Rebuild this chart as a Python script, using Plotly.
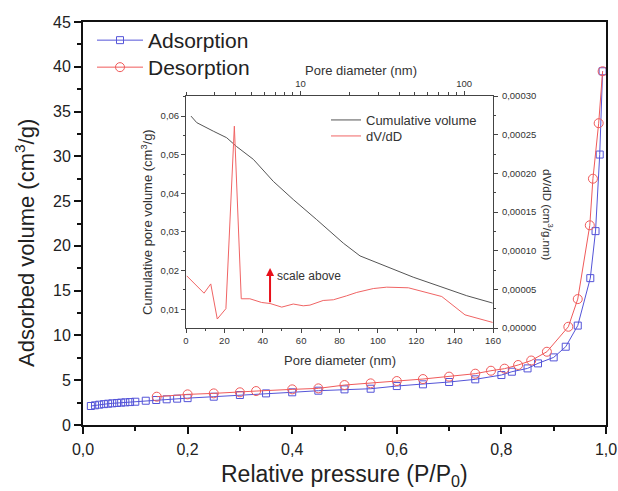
import math
import plotly.graph_objects as go

# ---------------- data ----------------
p_ads = [0.015, 0.023, 0.031, 0.040, 0.048, 0.056, 0.065, 0.073, 0.081, 0.090, 0.100,
         0.12, 0.14, 0.16, 0.18, 0.20, 0.25, 0.30, 0.35, 0.40, 0.45, 0.50, 0.55, 0.60,
         0.65, 0.70, 0.75, 0.80, 0.82, 0.85, 0.87, 0.90, 0.923, 0.946, 0.970, 0.980,
         0.988, 0.9935]
v_ads = [2.12, 2.20, 2.27, 2.33, 2.38, 2.42, 2.46, 2.50, 2.53, 2.56, 2.60,
         2.71, 2.79, 2.87, 2.94, 3.00, 3.16, 3.35, 3.53, 3.65, 3.83, 3.98, 4.05, 4.35,
         4.54, 4.80, 5.10, 5.58, 5.95, 6.32, 6.88, 7.55, 8.74, 11.1, 16.4, 21.65,
         30.2, 39.5]

p_des = [0.141, 0.20, 0.25, 0.30, 0.331, 0.40, 0.45, 0.50, 0.55, 0.60, 0.65, 0.70,
         0.75, 0.78, 0.806, 0.832, 0.857, 0.887, 0.928, 0.946, 0.969, 0.975, 0.986, 0.9935]
v_des = [3.16, 3.42, 3.53, 3.65, 3.79, 3.98, 4.09, 4.46, 4.65, 4.91, 5.13, 5.40,
         5.73, 6.06, 6.29, 6.70, 7.20, 8.18, 10.97, 14.06, 22.3, 27.5, 33.7, 39.5]

cum_d = [2.6, 3.8, 5.6, 14.2, 21.2, 26.4, 35.1, 45.5, 55.9, 68.1, 82.0, 90.7,
         104.6, 118.4, 132.4, 146.3, 159.8]
cum_v = [0.0600, 0.0592, 0.0583, 0.0561, 0.0544, 0.0521, 0.0488, 0.0431, 0.0384,
         0.0332, 0.0271, 0.0238, 0.0211, 0.0183, 0.0159, 0.0135, 0.0116]

dvdd_d = [0.4, 9.4, 12.9, 16.3, 20.8, 25.2, 28.8, 33.3, 39.4, 43.8, 49.9, 55.9,
          61.1, 64.6, 71.5, 76.8, 83.7, 89.0, 97.6, 104.6, 115.9, 133.3, 145.4, 159.8]
dvdd_v = [6.74e-5, 4.5e-5, 5.7e-5, 1.16e-5, 2.5e-5, 2.61e-4, 3.78e-5, 3.78e-5,
          3.3e-5, 3.17e-5, 2.7e-5, 3.1e-5, 2.87e-5, 2.96e-5, 3.56e-5, 3.65e-5,
          4.16e-5, 4.6e-5, 5.1e-5, 5.28e-5, 5.2e-5, 4.07e-5, 1.7e-5, 7.2e-6]

arrow_x = 43.8
arrow_base = 0.0114
arrow_tip = 0.0207

top_range = [2, 150]
top_major = [10, 100]
top_minor = [2, 3, 4, 5, 6, 7, 8, 9, 20, 30, 40, 50, 60, 70, 80, 90]

# ---------------- styles ----------------
BLUE = "#5454d8"
RED = "#f05a5a"
GRAY = "#555555"
DVRED = "#f06464"
FONT = "Arial, Liberation Sans, sans-serif"

W, H = 618, 491
ML, MR, MT, MB = 83, 12, 22, 66
PW, PH = W - ML - MR, H - MT - MB

def px(x):
    return (x - ML) / PW

def py(y):
    return (H - MB - y) / PH

fig = go.Figure()

fig.add_trace(go.Scatter(
    x=p_ads, y=v_ads, name="Adsorption", mode="lines+markers",
    line=dict(color=BLUE, width=1),
    marker=dict(symbol="square-open", size=7, color=BLUE, line=dict(width=1)),
    legend="legend"))
fig.add_trace(go.Scatter(
    x=p_des, y=v_des, name="Desorption", mode="lines+markers",
    line=dict(color=RED, width=1),
    marker=dict(symbol="circle-open", size=9, color=RED, line=dict(width=1)),
    legend="legend4"))

fig.add_trace(go.Scatter(
    x=cum_d, y=cum_v, name="Cumulative volume", mode="lines",
    line=dict(color=GRAY, width=1), xaxis="x2", yaxis="y2", legend="legend2"))
fig.add_trace(go.Scatter(
    x=dvdd_d, y=dvdd_v, name="dV/dD", mode="lines",
    line=dict(color=DVRED, width=1), xaxis="x2", yaxis="y3", legend="legend3"))
# invisible carrier so the top (log) pore-diameter axis is drawn
fig.add_trace(go.Scatter(
    x=top_range, y=[cum_v[0], cum_v[-1]], mode="lines", opacity=0,
    line=dict(width=0), showlegend=False, hoverinfo="skip",
    xaxis="x3", yaxis="y2"))

# inset domain
ix0, ix1 = px(186), px(493)
iy0, iy1 = py(328), py(96)

axis_common = dict(showgrid=False, zeroline=False, showline=True, automargin=False)
inset_tick = dict(size=9.5, family=FONT, color="#333")

fig.update_layout(
    width=W, height=H,
    margin=dict(l=ML, r=MR, t=MT, b=MB),
    paper_bgcolor="white", plot_bgcolor="white",
    separators=",.",
    font=dict(family=FONT, color="#222"),
    showlegend=True,
    xaxis=dict(**axis_common, domain=[0, 1], range=[0, 1], dtick=0.2, tickformat=".1f",
               linecolor="#111", linewidth=2, mirror=True,
               ticks="outside", ticklen=7, tickwidth=1.5, tickcolor="#111",
               minor=dict(dtick=0.1, ticks="outside", ticklen=4, tickcolor="#111"),
               tickfont=dict(size=16, family=FONT, color="#222"),
               ticklabelstandoff=2),
    yaxis=dict(**axis_common, domain=[0, 1], range=[0, 45], dtick=5,
               linecolor="#111", linewidth=2, mirror=True,
               ticks="outside", ticklen=7, tickwidth=1.5, tickcolor="#111",
               minor=dict(dtick=2.5, ticks="outside", ticklen=4, tickcolor="#111"),
               tickfont=dict(size=16, family=FONT, color="#222")),
    xaxis2=dict(**axis_common, domain=[ix0, ix1], anchor="y2", range=[0, 160], dtick=20,
                linecolor="#444", linewidth=1,
                ticks="outside", ticklen=4, tickcolor="#444",
                minor=dict(dtick=10, ticks="outside", ticklen=2, tickcolor="#444"),
                tickfont=inset_tick),
    yaxis2=dict(**axis_common, domain=[iy0, iy1], anchor="x2",
                range=[0.00514, 0.0652], tickvals=[0.01, 0.02, 0.03, 0.04, 0.05, 0.06],
                tickformat=".2f",
                linecolor="#444", linewidth=1,
                ticks="outside", ticklen=4, tickcolor="#444",
                minor=dict(dtick=0.005, ticks="outside", ticklen=2, tickcolor="#444"),
                tickfont=inset_tick),
    yaxis3=dict(**axis_common, overlaying="y2", side="right", anchor="x2",
                range=[0, 0.0003], dtick=0.00005, tickformat=".5f",
                linecolor="#444", linewidth=1,
                ticks="outside", ticklen=4, tickcolor="#444",
                minor=dict(dtick=0.000025, ticks="outside", ticklen=2, tickcolor="#444"),
                tickfont=inset_tick, ticklabelstandoff=2),
    xaxis3=dict(**axis_common, overlaying="x2", side="top", anchor="y2", type="log",
                range=[math.log10(top_range[0]), math.log10(top_range[1])],
                tickmode="array", tickvals=top_major, ticktext=["10", "100"],
                linecolor="#444", linewidth=1,
                ticks="outside", ticklen=4, tickcolor="#444",
                minor=dict(tickmode="array", tickvals=top_minor, ticks="outside",
                           ticklen=3, tickcolor="#444"),
                tickfont=inset_tick),
    legend=dict(x=px(92), y=py(20), xanchor="left", yanchor="top",
                bgcolor="rgba(0,0,0,0)", font=dict(size=21, family=FONT, color="#222"),
                itemwidth=46),
    legend4=dict(x=px(92), y=py(47), xanchor="left", yanchor="top",
                 bgcolor="rgba(0,0,0,0)", font=dict(size=21, family=FONT, color="#222"),
                 itemwidth=46),
    legend2=dict(x=px(326), y=py(105), xanchor="left", yanchor="top",
                 bgcolor="rgba(0,0,0,0)", font=dict(size=13, family=FONT, color="#333"),
                 itemwidth=30),
    legend3=dict(x=px(326), y=py(121), xanchor="left", yanchor="top",
                 bgcolor="rgba(0,0,0,0)", font=dict(size=13, family=FONT, color="#333"),
                 itemwidth=30),
)

def label(x, y, text, size, angle=0, color="#333"):
    return dict(x=px(x), y=py(y), xref="paper", yref="paper", text=text,
                textangle=angle, showarrow=False, xanchor="center", yanchor="middle",
                font=dict(size=size, family=FONT, color=color))

annotations = [
    label(25, 243, "Adsorbed volume (cm<sup>3</sup>/g)", 22, -90, "#222"),
    label(344, 475, "Relative pressure (P/P<sub>0</sub>)", 23, 0, "#222"),
    label(147, 222, "Cumulative pore volume (cm<sup>3</sup>/g)", 13, -90),
    label(548, 215, "dV/dD (cm<sup>3</sup>/g.nm)", 11.5, 90),
    label(361, 70, "Pore diameter (nm)", 13),
    label(340, 360, "Pore diameter (nm)", 13),
    dict(x=arrow_x, y=arrow_tip, ax=arrow_x, ay=arrow_base,
         xref="x2", yref="y2", axref="x2", ayref="y2",
         text="", showarrow=True, arrowhead=2, arrowsize=0.8, arrowwidth=2,
         arrowcolor="#e8101a"),
    dict(x=arrow_x, y=0.0187, xref="x2", yref="y2", xshift=5,
         text="scale above", showarrow=False, xanchor="left", yanchor="middle",
         font=dict(size=12, family=FONT, color="#333")),
]
fig.update_layout(annotations=annotations)

fig.write_html("out.html")
